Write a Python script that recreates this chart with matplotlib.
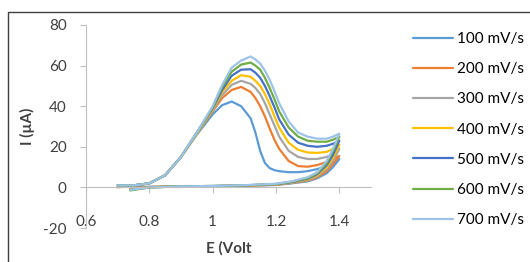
import matplotlib.pyplot as plt
from matplotlib.lines import Line2D

# forward (anodic) sweep potentials, V
e_fwd = [0.70, 0.75, 0.80, 0.85, 0.90, 0.95, 1.00, 1.03, 1.06, 1.09, 1.12, 1.135,
         1.15, 1.165, 1.18, 1.195, 1.21, 1.24, 1.27, 1.30, 1.33, 1.36, 1.38, 1.40]
# reverse sweep potentials, V
e_rev = [1.40, 1.38, 1.36, 1.33, 1.30, 1.25, 1.20, 1.10, 1.00, 0.90, 0.80, 0.74]

labels = ["100 mV/s", "200 mV/s", "300 mV/s", "400 mV/s",
          "500 mV/s", "600 mV/s", "700 mV/s"]
colors = ["#5B9BD5", "#ED7D31", "#A5A5A5", "#FFC000",
          "#4472C4", "#70AD47", "#9DC3E6"]

i_fwd_100 = [1, 1, 2, 6, 15, 26, 36, 40.5, 42.3, 40, 34, 27,
             18, 12, 9.5, 8.5, 8, 7.5, 7.5, 8, 9, 10.5, 12, 14]
i_fwd_200 = [0, 0.8, 2, 6, 15, 26.5, 37.5, 44, 48, 49.5, 47, 44,
             40, 35, 29, 23.5, 19, 13, 10.5, 10.2, 11, 12.5, 14, 15.5]
i_fwd_300 = [0.5, 1, 2, 6, 15, 26.5, 38, 45.5, 50.5, 52.5, 51, 49,
             46, 41.5, 36, 30.5, 25, 18, 15, 14, 14, 15, 16.5, 19]
i_fwd_400 = [1, 1, 2, 6, 15, 26.5, 38.5, 47, 52.5, 55.3, 54.5, 52.5,
             50, 46, 41, 35, 29.5, 22, 18.5, 17.2, 17, 17.5, 19, 21]
i_fwd_500 = [1, 1, 2, 6, 15, 27, 39, 48, 55, 58, 58.2, 56.5,
             54, 50, 45, 39.5, 33.5, 26, 22, 20.5, 20, 20.5, 21.5, 23]
i_fwd_600 = [1, 1, 2, 6, 15, 27, 39.5, 49.5, 57, 60.5, 61.5, 60,
             58, 54, 49, 43.5, 37.5, 29.5, 25, 23, 22.5, 22.5, 23.5, 25]
i_fwd_700 = [1, 1, 2, 6, 15, 27, 40, 50.5, 59, 62.5, 64.5, 63,
             61, 57.5, 53, 47.5, 41.5, 32.5, 27, 25, 24, 24, 25, 26.5]

i_rev_100 = [14, 10, 7, 4.5, 3, 2, 1.2, 0.8, 0.6, 0.5, 0.3, 0]
i_rev_200 = [15.5, 11.5, 8, 5, 3.3, 2.2, 1.3, 0.8, 0.6, 0.5, 0.2, -0.5]
i_rev_300 = [19, 13, 9, 5.5, 3.6, 2.3, 1.4, 0.9, 0.6, 0.5, 0.2, -0.8]
i_rev_400 = [21, 14.5, 10, 6, 4, 2.5, 1.5, 0.9, 0.6, 0.5, 0.1, -1]
i_rev_500 = [23, 16, 11, 6.5, 4.3, 2.6, 1.6, 1, 0.7, 0.5, 0, -1.2]
i_rev_600 = [25, 18, 12, 7, 4.6, 2.8, 1.7, 1, 0.7, 0.5, 0, -1.5]
i_rev_700 = [26.5, 19, 13, 7.5, 5, 3, 1.8, 1.1, 0.7, 0.5, 0, -1.2]

fwd = [i_fwd_100, i_fwd_200, i_fwd_300, i_fwd_400, i_fwd_500, i_fwd_600, i_fwd_700]
rev = [i_rev_100, i_rev_200, i_rev_300, i_rev_400, i_rev_500, i_rev_600, i_rev_700]

plt.rcParams['font.family'] = ['Lato', 'DejaVu Sans']
plt.rcParams['axes.unicode_minus'] = False

fig = plt.figure(figsize=(5.3, 2.62), dpi=100)
ax = fig.add_axes([86/530, 1-228/262, 285/530, 203/262])

for yf, yr, c, lab in zip(fwd, rev, colors, labels):
    ax.plot(e_fwd + e_rev, yf + yr, color=c, lw=1.6, label=lab,
            solid_joinstyle='round', solid_capstyle='round')

ax.set_xlim(0.6, 1.5)
ax.set_ylim(-20, 80)
ax.set_xticks([0.6, 0.8, 1.0, 1.2, 1.4])
ax.set_xticklabels(["0.6", "0.8", "1", "1.2", "1.4"])
ax.set_yticks([-20, 0, 20, 40, 60, 80])

for s in ['top', 'right']:
    ax.spines[s].set_visible(False)
ax.spines['bottom'].set_position(('data', 0))
ax.spines['bottom'].set_color('#BFBFBF')
ax.spines['left'].set_color('#BFBFBF')
ax.tick_params(axis='both', colors='#BFBFBF', labelcolor='#404040',
               labelsize=11, length=4)
ax.tick_params(axis='x', pad=16)
ax.tick_params(axis='y', pad=10)

ax.set_xlabel("E (Volt", fontsize=11, fontweight='bold', color='#404040')
ax.set_ylabel("I (µA)", fontsize=11, fontweight='bold', color='#404040', labelpad=6)
ax.xaxis.set_label_coords(0.5, -0.065)

ax.legend(loc='upper left', bbox_to_anchor=(413/530, 1-32/262),
          bbox_transform=fig.transFigure, frameon=False, fontsize=11,
          handlelength=2.6, handletextpad=0.3, labelspacing=1.06,
          borderaxespad=0, borderpad=0)

# chart area border (top and left edges visible)
fig.add_artist(Line2D([8/530, 8/530, 1], [0, 1-12/262, 1-12/262],
                      transform=fig.transFigure, color='#404040', lw=1))

fig.savefig("out.png", dpi=100)
